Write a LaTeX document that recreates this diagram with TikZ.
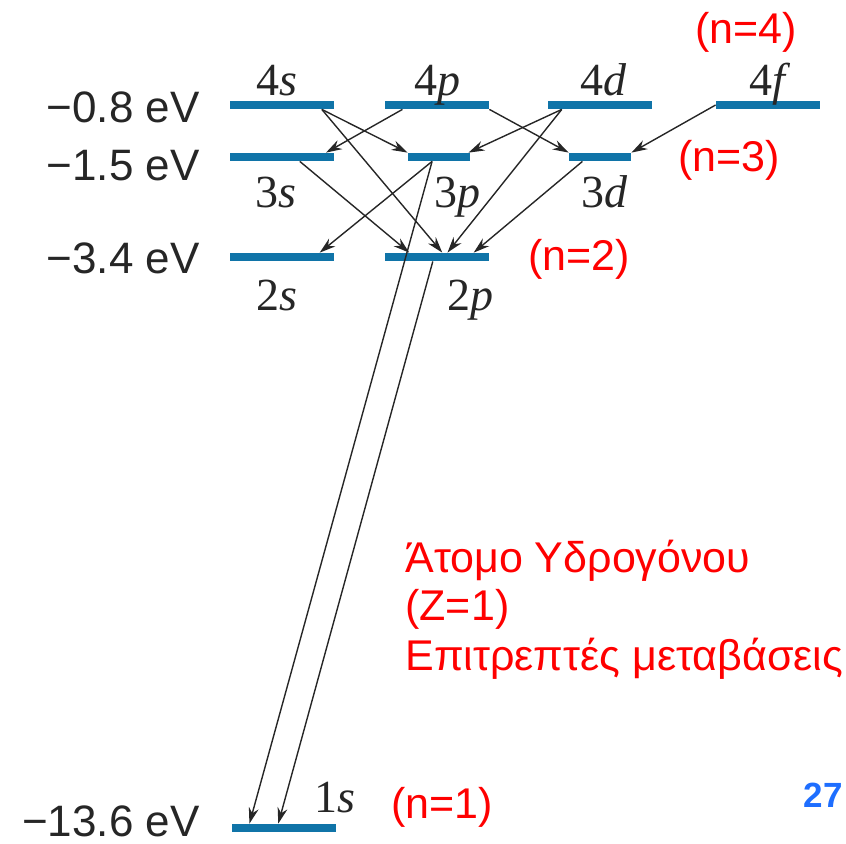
\documentclass[tikz,border=0pt]{standalone}
\usepackage{fontspec}
\setmainfont{Liberation Sans}
\newfontfamily\orbfont{Liberation Serif}
\usetikzlibrary{calc,arrows.meta}
\definecolor{levelblue}{RGB}{16,116,168}
\definecolor{pageblue}{RGB}{30,110,255}

\begin{document}
\begin{tikzpicture}[x=0.5pt, y=-0.5pt]
  \tikzstyle{level}=[fill=levelblue, inner sep=0pt, minimum height=4pt, minimum width=52pt]
  \tikzstyle{short}=[level, minimum width=31pt]
  \tikzstyle{orb}=[font=\orbfont\fontsize{23}{23}\selectfont, text=black!85, inner sep=0pt, anchor=base]
  \tikzstyle{energy}=[font=\fontsize{22}{22}\selectfont, text=black!85, inner sep=0pt, anchor=base east]
  \tikzstyle{shell}=[font=\fontsize{21.5}{21.5}\selectfont, text=red, inner sep=0pt]
  \tikzstyle{trans}=[-{Stealth[length=8pt,width=5pt]}, black!85, line width=0.7pt]

  \useasboundingbox (0,0) rectangle (846,843);

  % Energy levels
  \node[level] (l4s) at (282,105) {};
  \node[level] (l4p) at (437,105) {};
  \node[level] (l4d) at (599.5,105) {};
  \node[level] (l4f) at (768,105) {};
  \node[level] (l3s) at (282,157) {};
  \node[short] (l3p) at (439,157) {};
  \node[short] (l3d) at (600,157) {};
  \node[level] (l2s) at (282,257) {};
  \node[level] (l2p) at (437,257) {};
  \node[level] (l1s) at (283.5,828) {};

  % Orbital names
  \node[orb] (t4s) at (277,95) {4\textit{s}};
  \node[orb] (t4p) at (437,95) {4\textit{p}};
  \node[orb] (t4d) at (604,95) {4\textit{d}};
  \node[orb] (t4f) at (770,95) {4\textit{f}};
  \node[orb] (t3s) at (276,207) {3\textit{s}};
  \node[orb] (t3p) at (457,207) {3\textit{p}};
  \node[orb] (t3d) at (605,207) {3\textit{d}};
  \node[orb] (t2s) at (277,310) {2\textit{s}};
  \node[orb] (t2p) at (470,310) {2\textit{p}};
  \node[orb] (t1s) at (335,812) {1\textit{s}};

  % Energies
  \node[energy] (e4) at (200,122) {−0.8 eV};
  \node[energy] (e3) at (200,180) {−1.5 eV};
  \node[energy] (e2) at (200,273) {−3.4 eV};
  \node[energy] (e1) at (200,836) {−13.6 eV};

  % Shells
  \node[shell] (n4) at (746,32) {(n=4)};
  \node[shell] (n3) at (729,160) {(n=3)};
  \node[shell] (n2) at (579,259) {(n=2)};
  \node[shell] (n1) at (442,807) {(n=1)};

  % Allowed transitions
  \foreach \a/\p/\b/\q in {l4s/0.88/l3p/0, l4s/0.88/l2p/0.55, l4p/0.17/l3s/0.92,
      l4p/1/l3d/0, l4d/0.14/l3p/0.97, l4d/0.14/l2p/0.6, l3s/0.67/l2p/0.235,
      l3p/0.39/l2s/0.86, l3p/0.39/l1s/0.175, l3d/0.22/l2p/0.85, l2p/0.46/l1s/0.45}
    \draw[trans] ($(\a.south west)!\p!(\a.south east)$) -- ($(\b.north west)!\q!(\b.north east)$);
  \draw[trans] (l4f.west) -- (l3d.north east);

  % Caption
  \node[shell, anchor=base west] (g1) at (405,572) {Άτομο Υδρογόνου};
  \node[shell, anchor=base west] (g2) at (405,620) {(Z=1)};
  \node[shell, anchor=base west] (g3) at (405,670) {Επιτρεπτές μεταβάσεις};

  \node[font=\fontsize{17.5}{17.5}\selectfont\bfseries, text=pageblue] (page) at (823,795) {27};
\end{tikzpicture}
\end{document}
